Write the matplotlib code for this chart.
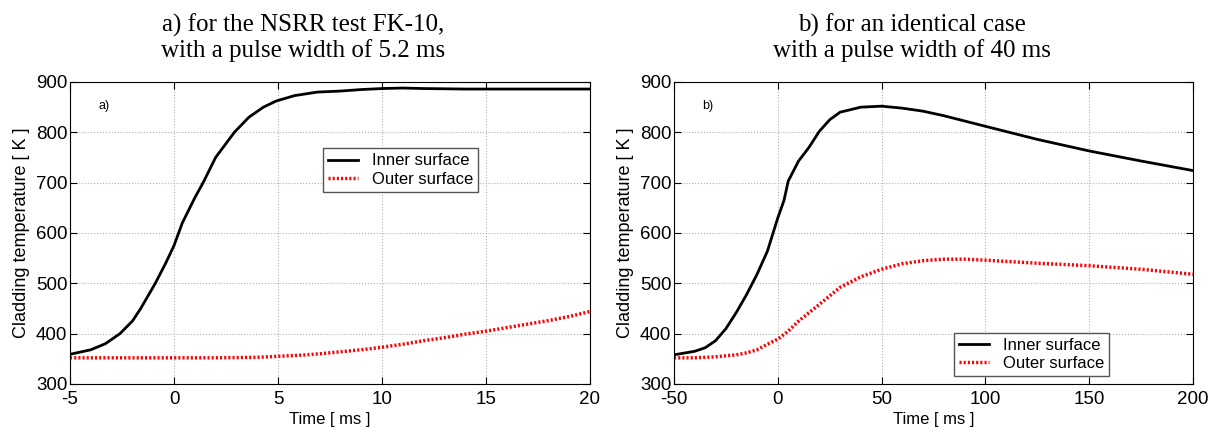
import matplotlib.pyplot as plt

# a) FK-10, pulse width 5.2 ms
t_a_in = [-5, -4, -3.3, -2.6, -2, -1.6, -0.9, -0.4, 0, 0.4, 1, 1.4, 2, 2.9, 3.6, 4.3, 4.9, 5.8, 6.9, 8, 9, 10, 11, 12, 14, 16, 18, 20]
T_a_in = [359, 368, 380, 400, 425, 450, 500, 540, 575, 620, 670, 700, 750, 800, 830, 850, 862, 873, 880, 882, 885, 887, 888, 887, 886, 886, 886, 886]
t_a_out = [-5, -2, 0, 2, 4, 5, 6, 7, 8, 9, 10, 11, 12, 13, 14, 15, 16, 17, 18, 19, 20]
T_a_out = [352, 352, 352, 352, 353, 355, 357, 360, 364, 368, 373, 379, 386, 392, 399, 405, 412, 419, 426, 434, 444]

# b) identical case, pulse width 40 ms
t_b_in = [-50, -40, -35, -30, -25, -20, -15, -10, -5, 0, 3, 5, 10, 15, 20, 25, 30, 40, 50, 60, 70, 80, 100, 125, 150, 175, 200]
T_b_in = [358, 365, 372, 386, 410, 442, 478, 518, 564, 630, 665, 703, 743, 770, 802, 825, 840, 850, 852, 848, 842, 833, 812, 786, 763, 743, 724]
t_b_out = [-50, -40, -30, -20, -15, -10, -5, 0, 5, 10, 20, 30, 40, 50, 60, 70, 80, 90, 100, 125, 150, 175, 200]
T_b_out = [352, 352, 354, 358, 362, 368, 379, 389, 405, 425, 458, 492, 513, 528, 539, 545, 548, 548, 546, 540, 535, 528, 518]

plt.rcParams['font.family'] = ['Liberation Sans', 'DejaVu Sans']
plt.rcParams['axes.unicode_minus'] = False

fig = plt.figure(figsize=(12.16, 4.33), dpi=100)
ax1 = fig.add_axes([70/1216, 1-384/433, 520/1216, 302/433])
ax2 = fig.add_axes([674/1216, 1-384/433, 519/1216, 302/433])

panels = [
    (ax1, t_a_in, T_a_in, t_a_out, T_a_out, (-5, 20), [-5, 0, 5, 10, 15, 20], 'a)',
     'a) for the NSRR test FK-10,\nwith a pulse width of 5.2 ms', 0.448,
     dict(loc='upper left', bbox_to_anchor=(0.487, 0.78))),
    (ax2, t_b_in, T_b_in, t_b_out, T_b_out, (-50, 200), [-50, 0, 50, 100, 150, 200], 'b)',
     'b) for an identical case\nwith a pulse width of 40 ms', 0.459,
     dict(loc='lower left', bbox_to_anchor=(0.54, 0.026))),
]

for ax, ti, Ti, to, To, xl, xt, tag, title, tx, legkw in panels:
    ax.plot(ti, Ti, '-', color='black', lw=2, label='Inner surface')
    ax.plot(to, To, linestyle=(0, (0.6, 0.6)), color='red', lw=2.5, label='Outer surface')
    ax.set_xlim(*xl)
    ax.set_ylim(300, 900)
    ax.set_xticks(xt)
    ax.set_yticks(range(300, 901, 100))
    ax.grid(True, linestyle=':', color='#b0b0b0', lw=0.8)
    ax.tick_params(direction='in', top=True, right=True, labelsize=13.5, length=5)
    ax.tick_params(axis='x', pad=5)
    ax.tick_params(axis='y', pad=2)
    ax.set_xlabel('Time [ ms ]', fontsize=12, labelpad=3)
    ax.set_ylabel('Cladding temperature [ K ]', fontsize=13, labelpad=4)
    ax.text(0.055, 0.91, tag, transform=ax.transAxes, fontsize=9)
    ax.legend(fontsize=12, fancybox=False, edgecolor='#555555', framealpha=1,
              handlelength=1.8, borderpad=0.3, labelspacing=0.2, borderaxespad=0, **legkw)
    ax.set_title(title, fontsize=18, family='Liberation Serif', pad=18, linespacing=1.1, x=tx)

fig.savefig('out.png', dpi=100)
